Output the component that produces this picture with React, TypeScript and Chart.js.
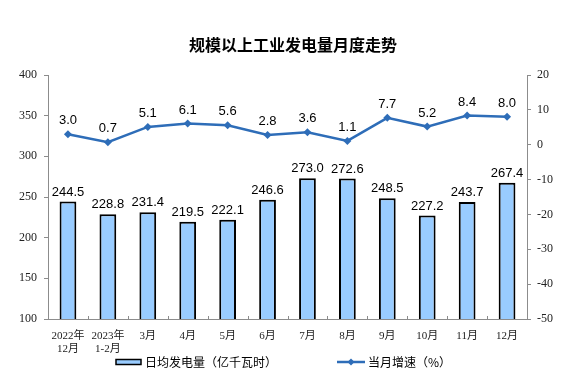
import React, { useEffect, useRef } from "react";
import { Chart, registerables } from "chart.js";

Chart.register(...registerables);

const categories: (string | string[])[] = [
  ["2022年", "12月"], ["2023年", "1-2月"], "3月", "4月", "5月", "6月", "7月", "8月", "9月", "10月", "11月", "12月",
];
const dailyOutput = [244.5, 228.8, 231.4, 219.5, 222.1, 246.6, 273.0, 272.6, 248.5, 227.2, 243.7, 267.4];
const growthRate = [3.0, 0.7, 5.1, 6.1, 5.6, 2.8, 3.6, 1.1, 7.7, 5.2, 8.4, 8.0];
const titleText = "规模以上工业发电量月度走势";
const barLegend = "日均发电量（亿千瓦时）";
const lineLegend = "当月增速（%）";

const BAR_COLOR = "#99CCFF";
const LINE_COLOR = "#2E6DB8";
const AXIS_COLOR = "#8C8C8C";
const SERIF = "'Liberation Serif', 'Noto Sans CJK SC', serif";
const SANS = "'Liberation Sans', Arial, sans-serif";
const CJK = "'Noto Sans CJK SC', sans-serif";

const decorPlugin = {
  id: "decor",
  afterDraw(chart: any) {
    const ctx = chart.ctx as CanvasRenderingContext2D;
    const area = chart.chartArea;
    ctx.save();
    // title
    ctx.fillStyle = "#000";
    ctx.font = `bold 16px ${CJK}`;
    ctx.textAlign = "center";
    ctx.textBaseline = "middle";
    ctx.fillText(titleText, 285, 37);

    // x-axis inward tick marks between categories
    const xs = chart.scales.x;
    ctx.strokeStyle = AXIS_COLOR;
    ctx.lineWidth = 1;
    for (let i = 1; i < categories.length; i++) {
      const px = Math.round((xs.getPixelForValue(i - 1) + xs.getPixelForValue(i)) / 2) + 0.5;
      ctx.beginPath();
      ctx.moveTo(px, area.bottom);
      ctx.lineTo(px, area.bottom - 3);
      ctx.stroke();
    }

    // bar labels
    const barMeta = chart.getDatasetMeta(0);
    ctx.fillStyle = "#000";
    ctx.font = `13px ${SANS}`;
    ctx.textAlign = "center";
    ctx.textBaseline = "bottom";
    barMeta.data.forEach((el: any, i: number) => {
      ctx.fillText(dailyOutput[i].toFixed(1), el.x, el.y - 3);
    });
    // line labels
    const lineMeta = chart.getDatasetMeta(1);
    lineMeta.data.forEach((el: any, i: number) => {
      ctx.fillText(growthRate[i].toFixed(1), el.x, el.y - 7);
    });

    // legend
    const ly = 354;
    ctx.fillStyle = BAR_COLOR;
    ctx.fillRect(108, ly - 2.5, 25, 5);
    ctx.strokeStyle = "#000";
    ctx.lineWidth = 1.5;
    ctx.strokeRect(108, ly - 2.5, 25, 5);
    ctx.fillStyle = "#000";
    ctx.font = `12px ${CJK}`;
    ctx.textAlign = "left";
    ctx.textBaseline = "middle";
    ctx.fillText(barLegend, 137, ly);

    ctx.strokeStyle = LINE_COLOR;
    ctx.lineWidth = 2.5;
    ctx.beginPath();
    ctx.moveTo(329, ly);
    ctx.lineTo(357, ly);
    ctx.stroke();
    ctx.fillStyle = LINE_COLOR;
    ctx.beginPath();
    ctx.moveTo(343, ly - 3.5);
    ctx.lineTo(346.5, ly);
    ctx.lineTo(343, ly + 3.5);
    ctx.lineTo(339.5, ly);
    ctx.closePath();
    ctx.fill();
    ctx.fillStyle = "#000";
    ctx.fillText(lineLegend, 360, ly);
    ctx.restore();
  },
};

export default function App() {
  const ref = useRef<HTMLCanvasElement>(null);
  useEffect(() => {
    if (!ref.current) return;
    const chart = new Chart(ref.current, {
      type: "bar",
      data: {
        labels: categories,
        datasets: [
          {
            type: "bar",
            label: barLegend,
            data: dailyOutput,
            backgroundColor: BAR_COLOR,
            borderColor: "#000",
            borderWidth: 2,
            barPercentage: 0.42,
            categoryPercentage: 1,
            yAxisID: "y",
            order: 2,
          },
          {
            type: "line",
            label: lineLegend,
            data: growthRate,
            borderColor: LINE_COLOR,
            backgroundColor: LINE_COLOR,
            borderWidth: 2.5,
            pointStyle: "rectRot",
            pointRadius: 4,
            pointBorderWidth: 0,
            tension: 0,
            yAxisID: "y1",
            order: 1,
          },
        ],
      },
      options: {
        responsive: false,
        animation: false,
        layout: { padding: { top: 67, left: 0, right: 0, bottom: 0 } },
        plugins: {
          legend: { display: false },
          title: { display: false },
          tooltip: { enabled: false },
        },
        scales: {
          x: {
            grid: { display: false, offset: true },
            border: { color: AXIS_COLOR, width: 1 },
            ticks: { color: "#222", font: { family: SERIF, size: 11, lineHeight: 1.15 }, padding: 3, maxRotation: 0, autoSkip: false },
            afterFit: (s: any) => { s.height = 53; },
          },
          y: {
            position: "left",
            min: 100,
            max: 400,
            ticks: { stepSize: 50, color: "#222", font: { family: SERIF, size: 12 }, padding: 7 },
            grid: { drawOnChartArea: false, drawTicks: true, tickLength: 4, color: AXIS_COLOR },
            border: { color: AXIS_COLOR, width: 1 },
            afterFit: (s: any) => { s.width = 40; },
          },
          y1: {
            position: "right",
            min: -50,
            max: 20,
            ticks: { stepSize: 10, color: "#222", font: { family: SERIF, size: 12 }, padding: 6 },
            grid: { drawOnChartArea: false, drawTicks: true, tickLength: 4, color: AXIS_COLOR },
            border: { color: AXIS_COLOR, width: 1 },
            afterFit: (s: any) => { s.width = 37; },
          },
        },
      },
      plugins: [decorPlugin],
    });
    return () => chart.destroy();
  }, []);
  return <canvas ref={ref} width={556} height={364} />;
}
